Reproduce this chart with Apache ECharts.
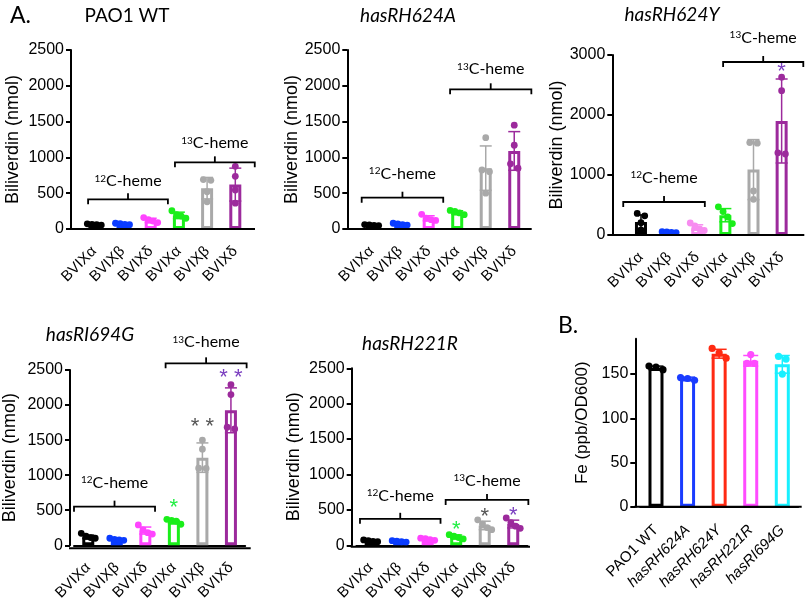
<!DOCTYPE html>
<html>
<head>
<meta charset="utf-8">
<script src="https://cdn.jsdelivr.net/npm/echarts@6/dist/echarts.min.js"></script>
<style>
  html, body { margin: 0; padding: 0; background: #fff; }
  #chart { width: 805px; height: 603px; }
</style>
</head>
<body>
<div id="chart"></div>
<script>
// categories
const BV_CATS = ['BVIXα', 'BVIXβ', 'BVIXδ', 'BVIXα', 'BVIXβ', 'BVIXδ'];
const FE_CATS = ['PAO1 WT', 'hasRH624A', 'hasRH624Y', 'hasRH221R', 'hasRI694G'];

// PAO1 WT
const WT_MEAN = [60, 65, 120, 190, 570, 620];
const WT_SD = [10, 12, 30, 45, 150, 230];
const WT_DOTS = [[72, 65, 60, 55], [80, 75, 65, 60], [160, 130, 110, 90], [255, 200, 180, 150], [690, 680, 520, 380], [875, 735, 545, 360]];

// hasRH624A
const H624A_MEAN = [55, 65, 150, 230, 850, 1090];
const H624A_SD = [8, 12, 35, 25, 310, 270];
const H624A_DOTS = [[62, 58, 52, 48], [80, 72, 60, 55], [205, 150, 130, 120], [260, 245, 225, 200], [1275, 825, 800, 500], [1450, 1170, 910, 850]];

// hasRH624Y
const H624Y_MEAN = [215, 45, 125, 330, 1090, 1900];
const H624Y_SD = [120, 10, 45, 110, 500, 700];
const H624Y_DOTS = [[360, 320, 205, 85], [55, 50, 45, 40], [200, 150, 100, 75], [470, 390, 300, 190], [1540, 1530, 735, 595], [2630, 2405, 1370, 1350]];

// hasRI694G
const I694G_MEAN = [120, 80, 210, 335, 1250, 1925];
const I694G_SD = [25, 10, 50, 20, 210, 320];
const I694G_DOTS = [[170, 130, 110, 100], [100, 85, 75, 70], [290, 220, 180, 160], [370, 355, 345, 300], [1500, 1370, 1100, 1095], [2290, 2150, 1685, 1660]];

// hasRH221R
const H221R_MEAN = [60, 55, 85, 120, 280, 300];
const H221R_SD = [10, 8, 10, 25, 60, 55];
const H221R_DOTS = [[75, 65, 55, 50], [65, 60, 50, 45], [100, 95, 80, 70], [150, 130, 110, 90], [360, 300, 250, 220], [385, 320, 270, 240]];

// B. Fe
const FE_MEAN = [157, 145, 173, 165, 161];
const FE_SD = [2, 1.5, 5, 6, 10];
const FE_DOTS = [[159, 158, 155], [146, 145, 143], [179, 174, 168], [172, 162, 162], [170, 167, 150]];

const COL_A = ['#000000', '#0a3cff', '#ff44ff', '#1aee1a', '#a9a9a9', '#9c2a9c'];
const COL_A3 = ['#000000', '#0a3cff', '#f78cf0', '#1aee1a', '#a9a9a9', '#9c2a9c'];
const COL_B = ['#000000', '#1a3cff', '#ff2a12', '#ff4cff', '#18f0ff'];
const STAR_COL = {3: '#22ee44', 4: '#555555', 5: '#7b3fc0'};

// layout of each panel (px) + annotations (brackets: [from, to, value, isotope, text dy])
const PANELS = [
  {title: 'PAO1 WT', italic: false, tx: 127, ty: 16, axisX: 71, left: 80.2, width: 169.2, top: 50, bottom: 229, end: 255,
   max: 2500, step: 500, nameGap: 49, cats: BV_CATS, mean: WT_MEAN, sd: WT_SD, dots: WT_DOTS, colors: COL_A,
   brackets: [[-0.22, 2.61, 415, 12, 18], [2.86, 5.69, 931, 13, 19]], stars: []},
  {title: 'hasRH624A', italic: true, tx: 408, ty: 16, axisX: 347.3, left: 357.4, width: 171.1, top: 50, bottom: 229, end: 531.7,
   max: 2500, step: 500, nameGap: 44, cats: BV_CATS, mean: H624A_MEAN, sd: H624A_SD, dots: H624A_DOTS, colors: COL_A,
   brackets: [[-0.35, 2.51, 437, 12, 24], [2.75, 5.6, 1951, 13, 20]], stars: []},
  {title: 'hasRH624Y', italic: true, tx: 672, ty: 15, axisX: 612.3, left: 626.9, width: 168.8, top: 55, bottom: 235, end: 804.3,
   max: 3000, step: 1000, nameGap: 43, cats: BV_CATS, mean: H624Y_MEAN, sd: H624Y_SD, dots: H624Y_DOTS, colors: COL_A3,
   brackets: [[-0.63, 2.27, 550, 12, 24], [2.92, 5.77, 2883, 13, 24]], stars: [[5, 2805, 1]]},
  {title: 'hasRI694G', italic: true, tx: 90, ty: 335, axisX: 70, left: 74.0, width: 171.2, top: 370, bottom: 548.3, end: 250.7,
   max: 2500, step: 500, nameGap: 51, cats: BV_CATS, mean: I694G_MEAN, sd: I694G_SD, dots: I694G_DOTS, colors: COL_A,
   brackets: [[-0.5, 2.34, 551, 12, 24], [2.71, 5.55, 2595, 13, 21]], stars: [[3, 607, 1], [4, 1762, 2], [5, 2454, 2]]},
  {title: 'hasRH221R', italic: true, tx: 410, ty: 344, axisX: 351.7, left: 356.4, width: 171.1, top: 368.3, bottom: 546.7, end: 530,
   max: 2500, step: 500, nameGap: 49, cats: BV_CATS, mean: H221R_MEAN, sd: H221R_SD, dots: H221R_DOTS, colors: COL_A,
   brackets: [[-0.375, 2.45, 374, 12, 23], [2.63, 5.53, 641, 13, 19]], stars: [[3, 290, 1], [4, 477, 1], [5, 491, 1]]},
  {title: '', axisX: 635.3, left: 640.2, width: 157.9, top: 338.7, bottom: 506.7, end: 801.7,
   max: 190, step: 50, ticks: [0, 50, 100, 150], nameGap: 44, cats: FE_CATS, mean: FE_MEAN, sd: FE_SD, dots: FE_DOTS, colors: COL_B,
   brackets: [], stars: [], fe: true}
];

const LABEL_FONT = 'Liberation Sans';
const TITLE_FONT = 'Lato';

function spread(ys, d, maxHalf) {
  const order = ys.map((y, i) => i).sort((a, b) => ys[a] - ys[b]);
  const off = ys.map(() => 0);
  let cluster = [order[0]];
  const flush = () => {
    const n = cluster.length;
    const step = n > 1 ? Math.min(d, 2 * maxHalf / (n - 1)) : 0;
    cluster.forEach((idx, k) => { off[idx] = (k - (n - 1) / 2) * step; });
  };
  for (let k = 1; k < order.length; k++) {
    if (ys[order[k]] - ys[order[k - 1]] < d * 0.9) cluster.push(order[k]);
    else { flush(); cluster = [order[k]]; }
  }
  flush();
  return off;
}

const grids = [], xAxes = [], yAxes = [], series = [], graphics = [];

PANELS.forEach((p, i) => {
  const barW = p.fe ? 15 : 12;
  const capW = p.fe ? 15 : 12;
  const dotR = p.fe ? 3.6 : 3.4;
  grids.push({left: p.left, top: p.top, width: p.width, height: p.bottom - p.top});
  xAxes.push({
    type: 'category', gridIndex: i, data: p.cats,
    axisLine: {lineStyle: {color: '#000', width: 2}},
    axisTick: {alignWithLabel: true, length: 5, lineStyle: {color: '#000', width: 2}},
    axisLabel: p.fe ? {
      interval: 0, rotate: 45, margin: 21, color: '#000',
      formatter: v => v === 'PAO1 WT' ? '{n|' + v + '}' : '{i|' + v + '}',
      rich: {
        n: {fontSize: 15, fontFamily: LABEL_FONT, color: '#000'},
        i: {fontSize: 15, fontFamily: LABEL_FONT, fontStyle: 'italic', color: '#000'}
      }
    } : {
      interval: 0, rotate: 45, margin: 20, color: '#000',
      formatter: v => '{a|' + v + '}',
      rich: {a: {fontSize: 15, fontFamily: LABEL_FONT, color: '#000'}}
    }
  });
  const yAx = {
    type: 'value', gridIndex: i, min: 0, max: p.max, interval: p.step,
    offset: p.left - p.axisX,
    name: p.fe ? 'Fe (ppb/OD600)' : 'Biliverdin (nmol)',
    nameLocation: 'middle', nameGap: p.nameGap,
    nameTextStyle: {fontSize: p.fe ? 17 : 18, fontFamily: LABEL_FONT, color: '#000'},
    axisLine: {show: true, lineStyle: {color: '#000', width: 2}},
    axisTick: {show: true, length: 5, lineStyle: {color: '#000', width: 2}},
    axisLabel: {fontSize: 16, fontFamily: LABEL_FONT, color: '#000', margin: 7, formatter: v => String(v)},
    splitLine: {show: false}
  };
  if (p.ticks) {
    yAx.axisTick.customValues = p.ticks;
    yAx.axisLabel.customValues = p.ticks;
  }
  yAxes.push(yAx);

  // hollow bars
  series.push({
    type: 'bar', xAxisIndex: i, yAxisIndex: i, barWidth: barW, z: 2, silent: true,
    data: p.mean.map((v, k) => ({value: v, itemStyle: {color: '#fff', borderColor: p.colors[k], borderWidth: 3}}))
  });

  // error bars (mean ± SD)
  series.push({
    type: 'custom', xAxisIndex: i, yAxisIndex: i, z: 3, silent: true,
    data: p.mean.map((m, k) => [k, m, p.sd[k]]),
    renderItem: (params, api) => {
      const k = api.value(0), m = api.value(1), s = api.value(2);
      const top = api.coord([k, m + s]), bot = api.coord([k, Math.max(0, m - s)]);
      const c = p.colors[k], hw = capW / 2, x = top[0];
      const st = {stroke: c, lineWidth: 1.5};
      return {type: 'group', children: [
        {type: 'line', shape: {x1: x, y1: top[1], x2: x, y2: bot[1]}, style: st},
        {type: 'line', shape: {x1: x - hw, y1: top[1], x2: x + hw, y2: top[1]}, style: st},
        {type: 'line', shape: {x1: x - hw, y1: bot[1], x2: x + hw, y2: bot[1]}, style: st}
      ]};
    }
  });

  // individual points
  const dotData = [];
  p.dots.forEach((arr, k) => arr.forEach((v, j) => dotData.push([k, v, j])));
  series.push({
    type: 'custom', xAxisIndex: i, yAxisIndex: i, z: 4, silent: true,
    data: dotData,
    renderItem: (params, api) => {
      const k = api.value(0), j = api.value(2);
      const ys = p.dots[k].map(v => api.coord([k, v])[1]);
      const off = spread(ys, 7.5, 7);
      const pt = api.coord([k, api.value(1)]);
      return {type: 'circle', shape: {cx: pt[0] + off[j], cy: pt[1], r: dotR}, style: {fill: p.colors[k]}};
    }
  });

  // 12C / 13C brackets
  if (p.brackets.length) {
    series.push({
      type: 'custom', xAxisIndex: i, yAxisIndex: i, z: 5, silent: true,
      data: p.brackets.map(b => [0, b[2], b[0], b[1], b[3], b[4]]),
      renderItem: (params, api) => {
        const p0 = api.coord([0, api.value(1)]), p1 = api.coord([1, api.value(1)]);
        const stp = p1[0] - p0[0];
        const xa = p0[0] + api.value(2) * stp, xb = p0[0] + api.value(3) * stp, y = p0[1];
        const xm = (xa + xb) / 2;
        const st = {stroke: '#000', lineWidth: 1.8, fill: null};
        return {type: 'group', children: [
          {type: 'polyline', shape: {points: [[xa, y + 5], [xa, y], [xb, y], [xb, y + 5]]}, style: st},
          {type: 'line', shape: {x1: xm, y1: y, x2: xm, y2: y - 6}, style: st},
          {type: 'text', x: xm, y: y - api.value(5), style: {
            text: '{s|' + api.value(4) + '}{m|C-heme}', align: 'center', verticalAlign: 'middle', fill: '#000',
            rich: {
              s: {fontSize: 10, fontFamily: TITLE_FONT, verticalAlign: 'top', fill: '#000'},
              m: {fontSize: 16, fontFamily: TITLE_FONT, fill: '#000'}
            }
          }}
        ]};
      }
    });
  }

  // significance stars
  if (p.stars.length) {
    series.push({
      type: 'custom', xAxisIndex: i, yAxisIndex: i, z: 5, silent: true,
      data: p.stars,
      renderItem: (params, api) => {
        const k = api.value(0), n = api.value(2);
        const pt = api.coord([k, api.value(1)]);
        return {type: 'text', x: pt[0], y: pt[1] + 5, style: {
          text: n > 1 ? '* *' : '*', align: 'center', verticalAlign: 'middle',
          fontSize: 22, fontFamily: LABEL_FONT, fill: STAR_COL[k]
        }};
      }
    });
  }

  // full-length x axis baseline (starts at the y axis)
  graphics.push({type: 'line', z: 10, shape: {x1: p.axisX - 1, y1: p.bottom, x2: p.end, y2: p.bottom},
    style: {stroke: '#000', lineWidth: 2}});

  if (p.title) {
    graphics.push({type: 'text', x: p.tx, y: p.ty, style: {
      text: p.title, align: 'center', verticalAlign: 'middle', fill: '#000',
      fontSize: 19, fontFamily: TITLE_FONT, fontStyle: p.italic ? 'italic' : 'normal'
    }});
  }
});

graphics.push({type: 'text', x: 10, y: 16, style: {text: 'A.', align: 'left', verticalAlign: 'middle',
  fontSize: 23, fontFamily: TITLE_FONT, fill: '#000'}});
graphics.push({type: 'text', x: 558, y: 326, style: {text: 'B.', align: 'left', verticalAlign: 'middle',
  fontSize: 23, fontFamily: TITLE_FONT, fill: '#000'}});

const chart = echarts.init(document.getElementById('chart'), null, {renderer: 'canvas'});
chart.setOption({
  animation: false,
  backgroundColor: '#fff',
  grid: grids,
  xAxis: xAxes,
  yAxis: yAxes,
  series: series,
  graphic: graphics
});
</script>
</body>
</html>
